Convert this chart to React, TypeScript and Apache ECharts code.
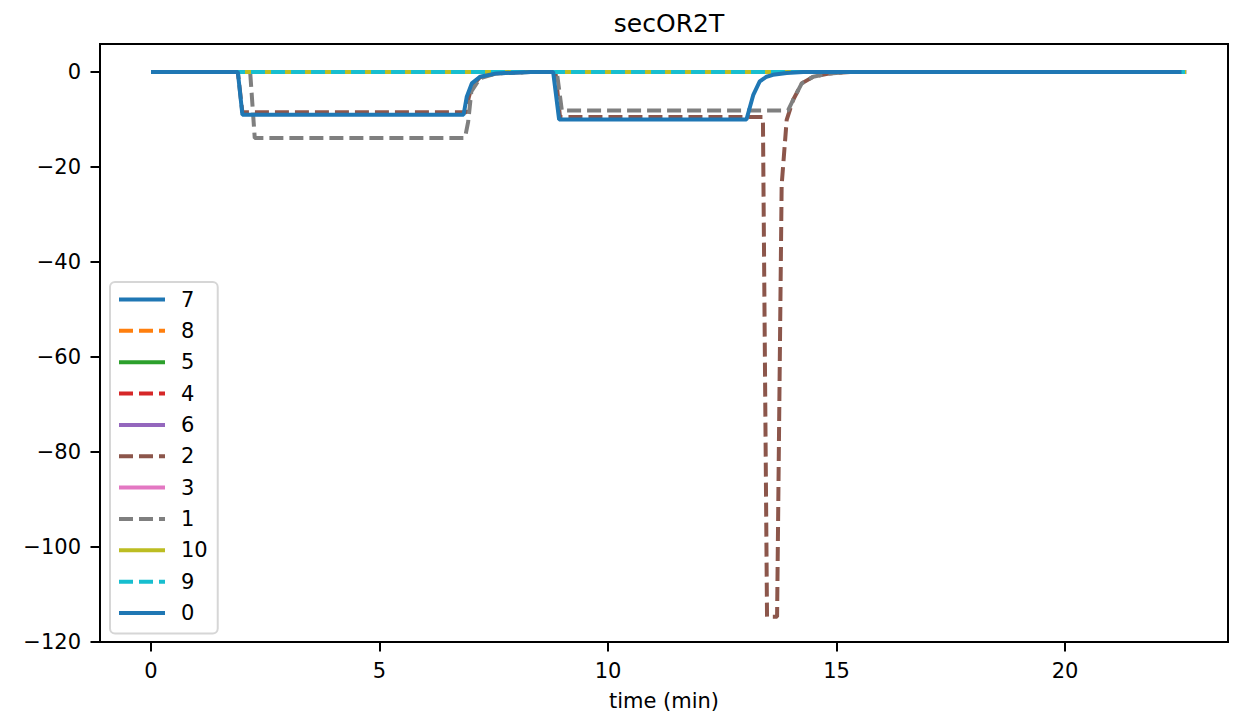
import React, { useEffect, useRef } from "react";
import * as echarts from "echarts";

type Pt = [number, number];

// series names in legend / drawing order
const seriesNames = ["7", "8", "5", "4", "6", "2", "3", "1", "10", "9", "0"];
const seriesColors: Record<string, string> = {
  "0": "#1f77b4",
  "1": "#7f7f7f",
  "2": "#8c564b",
  "3": "#e377c2",
  "4": "#d62728",
  "5": "#2ca02c",
  "6": "#9467bd",
  "7": "#1f77b4",
  "8": "#ff7f0e",
  "9": "#17becf",
  "10": "#bcbd22",
};
const dashedNames = ["8", "4", "2", "1", "9"];

// values: [time (min), secOR2T]
const flat: Pt[] = [[0, 0], [22.65, 0]];
const s0: Pt[] = [
  [0, 0], [1.9, 0], [2.0, -9.0], [6.84, -9.0], [6.91, -5.2], [7.02, -2.4], [7.2, -1.0],
  [7.56, -0.3], [8.3, 0], [8.8, 0], [8.93, -10.0], [13.03, -10.0], [13.18, -4.8],
  [13.32, -2.0], [13.47, -1.0], [13.61, -0.6], [13.91, -0.2], [14.27, 0], [22.55, 0],
];
const s1: Pt[] = [
  [0, 0], [2.17, 0], [2.27, -13.9], [6.87, -13.9], [6.94, -10.5], [7.01, -4.1], [7.2, -1.3],
  [7.56, -0.3], [8.3, 0], [8.88, 0], [8.99, -8.1], [13.94, -8.1], [14.05, -5.9],
  [14.24, -2.4], [14.49, -1.0], [14.86, -0.3], [15.3, 0], [22.65, 0],
];
const s2: Pt[] = [
  [0, 0], [1.9, 0], [2.0, -8.5], [6.9, -8.5], [6.95, -5.5], [7.02, -3.0], [7.2, -1.1],
  [7.56, -0.3], [8.3, 0], [8.85, 0], [8.95, -9.5], [13.39, -9.5], [13.48, -114.7],
  [13.7, -114.7], [13.8, -23.8], [13.91, -10.1], [14.05, -5.9], [14.24, -2.4],
  [14.49, -1.0], [14.86, -0.3], [15.3, 0], [22.65, 0],
];
const seriesData: Record<string, Pt[]> = {
  "0": s0, "1": s1, "2": s2,
  "3": flat, "4": flat, "5": flat, "6": flat, "7": flat, "8": flat, "9": flat, "10": flat,
};

const xTicks = [0, 5, 10, 15, 20];
const yTicks = [-120, -100, -80, -60, -40, -20, 0];

const FONT = "DejaVu Sans";

export default function App() {
  const ref = useRef<HTMLDivElement>(null);
  useEffect(() => {
    if (!ref.current) return;
    const chart = echarts.init(ref.current, null, { renderer: "svg" });
    const fmt = (v: number) => (v < 0 ? "\u2212" + Math.abs(v) : String(v));
    chart.setOption({
      animation: false,
      backgroundColor: "#ffffff",
      title: {
        text: "secOR2T",
        left: 664,
        top: 6,
        textAlign: "center",
        textStyle: { fontFamily: FONT, fontSize: 25, fontWeight: "normal", color: "#000" },
      },
      grid: {
        left: 100, top: 44, right: 9, bottom: 78,
        show: true, borderColor: "#000", borderWidth: 2, backgroundColor: "transparent",
      },
      legend: {
        orient: "vertical",
        left: 110,
        top: 282,
        data: seriesNames,
        itemWidth: 46,
        itemHeight: 14,
        itemGap: 10.35,
        padding: [7, 10, 10, 7],
        backgroundColor: "rgba(255,255,255,0.8)",
        borderColor: "#d6d6d6",
        borderWidth: 2,
        borderRadius: 5,
        itemStyle: { opacity: 0 },
        lineStyle: { width: 4 },
        textStyle: { fontFamily: FONT, fontSize: 21, lineHeight: 21, color: "#000", padding: [0, 0, 0, 11] },
      },
      xAxis: {
        type: "value",
        min: -1.116,
        max: 23.567,
        name: "time (min)",
        nameLocation: "middle",
        nameGap: 48,
        nameTextStyle: { fontFamily: FONT, fontSize: 21, color: "#000" },
        splitLine: { show: false },
        axisLine: { show: true, onZero: false, lineStyle: { color: "#000", width: 2 } },
        axisTick: { show: true, customValues: xTicks, length: 9.5, lineStyle: { color: "#000", width: 2 } },
        axisLabel: { customValues: xTicks, margin: 18, fontFamily: FONT, fontSize: 21, color: "#000", formatter: fmt },
      },
      yAxis: {
        type: "value",
        min: -120,
        max: 5.89,
        splitLine: { show: false },
        axisLine: { show: true, onZero: false, lineStyle: { color: "#000", width: 2 } },
        axisTick: { show: true, customValues: yTicks, length: 9.5, lineStyle: { color: "#000", width: 2 } },
        axisLabel: { customValues: yTicks, margin: 19, fontFamily: FONT, fontSize: 21, color: "#000", formatter: fmt },
      },
      series: seriesNames.map((n) => ({
        name: n,
        type: "line",
        data: seriesData[n],
        symbol: "none",
        showSymbol: false,
        clip: true,
        color: seriesColors[n],
        lineStyle: {
          color: seriesColors[n],
          width: 4,
          type: dashedNames.includes(n) ? [14, 6] : "solid",
          cap: "butt",
        },
      })),
    });
    return () => chart.dispose();
  }, []);
  return (
    <div
      ref={ref}
      style={{ position: "fixed", left: 0, top: 0, width: 1237, height: 720, background: "#fff" }}
    />
  );
}
